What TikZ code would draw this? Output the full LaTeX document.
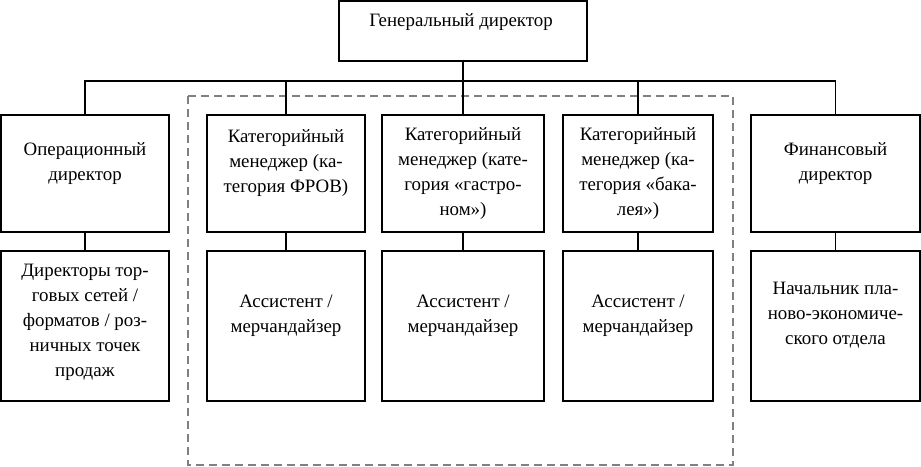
\documentclass[tikz,border=0pt]{standalone}
\usepackage{fontspec}
\setmainfont{Liberation Serif}
\newfontfamily\tnrfont{Liberation Serif}
\begin{document}
\begin{tikzpicture}[x=1pt,y=-1pt,
  box/.style={draw=black,line width=1.9pt,inner sep=0pt,outer sep=0pt,fill=none},
  txt/.style={align=center,inner sep=0pt,font=\tnrfont\fontsize{18.9}{25}\selectfont},
  link/.style={draw=black,line width=1.9pt},
  grp/.style={draw=black!50,line width=1.4pt,dash pattern=on 8pt off 5pt}]
\useasboundingbox (0,0) rectangle (921,466);
% dashed group
\draw[grp] (188,96) rectangle (733,465);
% boxes
\node[box,minimum width=248pt,minimum height=60pt] (top) at (463,31) {};
\node[box,minimum width=168pt,minimum height=117pt] (b1) at (85,173.5) {};
\node[box,minimum width=158pt,minimum height=117pt] (b2) at (286,173.5) {};
\node[box,minimum width=162pt,minimum height=117pt] (b3) at (463,173.5) {};
\node[box,minimum width=150pt,minimum height=117pt] (b4) at (638,173.5) {};
\node[box,minimum width=169pt,minimum height=117pt] (b5) at (835.5,173.5) {};
\node[box,minimum width=168pt,minimum height=150pt] (c1) at (85,326) {};
\node[box,minimum width=158pt,minimum height=150pt] (c2) at (286,326) {};
\node[box,minimum width=162pt,minimum height=150pt] (c3) at (463,326) {};
\node[box,minimum width=150pt,minimum height=150pt] (c4) at (638,326) {};
\node[box,minimum width=169pt,minimum height=150pt] (c5) at (835.5,326) {};
% texts
\node[txt] at (461,22) {Генеральный директор};
\node[txt] at (85,163.5) {Операционный\\директор};
\node[txt] at (286,163) {Категорийный\\менеджер (ка-\\тегория ФРОВ)};
\node[txt] at (463,174) {Категорийный\\менеджер (кате-\\гория «гастро-\\ном»)};
\node[txt] at (638,174) {Категорийный\\менеджер (ка-\\тегория «бака-\\лея»)};
\node[txt] at (835.5,163.5) {Финансовый\\директор};
\node[txt] at (85,322) {Директоры тор-\\говых сетей /\\форматов / роз-\\ничных точек\\продаж};
\node[txt] at (286,315.5) {Ассистент /\\мерчандайзер};
\node[txt] at (463,315.5) {Ассистент /\\мерчандайзер};
\node[txt] at (638,315.5) {Ассистент /\\мерчандайзер};
\node[txt] at (835.5,315) {Начальник пла-\\ново-экономиче-\\ского отдела};
% connectors
\coordinate (bus) at (463,81);
\draw[link] (top.south) -- (b3.north);
\draw[link] (b1.north) |- (bus) -| (b5.north);
\draw[link] (b2.north) -- (b2.north |- bus);
\draw[link] (b4.north) -- (b4.north |- bus);
\draw[link] (b1.south) -- (c1.north);
\draw[link] (b2.south) -- (c2.north);
\draw[link] (b3.south) -- (c3.north);
\draw[link] (b4.south) -- (c4.north);
\draw[link] (b5.south) -- (c5.north);
\end{tikzpicture}
\end{document}
